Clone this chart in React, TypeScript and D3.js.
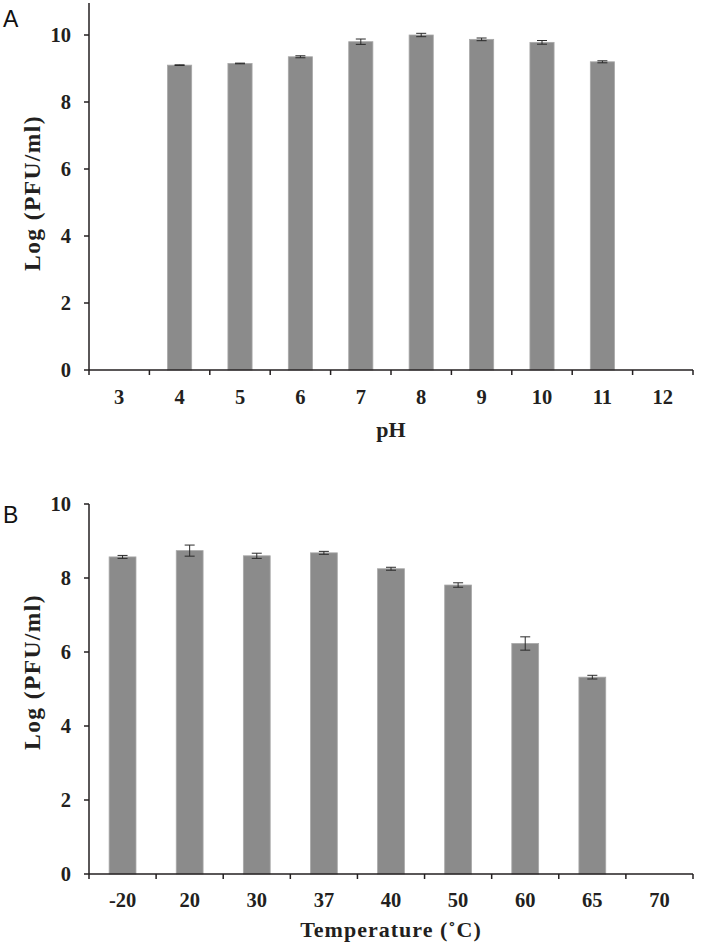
import React from "react";
import * as d3 from "d3";

const phCategories = ["3", "4", "5", "6", "7", "8", "9", "10", "11", "12"];
const phValues = [0, 9.1, 9.15, 9.35, 9.8, 10.0, 9.87, 9.78, 9.2, 0];
const phErrors = [0, 0.01, 0.01, 0.03, 0.08, 0.05, 0.04, 0.055, 0.03, 0];
const phTicks = [0, 2, 4, 6, 8, 10];

const tempCategories = ["-20", "20", "30", "37", "40", "50", "60", "65", "70"];
const tempValues = [8.57, 8.74, 8.6, 8.68, 8.25, 7.81, 6.23, 5.32, 0];
const tempErrors = [0.04, 0.15, 0.07, 0.04, 0.04, 0.06, 0.18, 0.05, 0];
const tempTicks = [0, 2, 4, 6, 8, 10];

const AXIS = "#231f20";
const BAR = "#8b8b8b";
const SERIF = "'Liberation Serif', 'Times New Roman', serif";
const SANS = "'Liberation Sans', Arial, sans-serif";

type PanelProps = {
  letter: string;
  letterY: number;
  letterSize: number;
  categories: string[];
  values: number[];
  errors: number[];
  ticks: number[];
  y0: number;
  y10: number;
  axisTop: number;
  xLabel: string;
  xLabelY: number;
  xLabelSpacing: number;
  tickLabelY: number;
  yTitleCenter: number;
};

function Panel(p: PanelProps) {
  const left = 89;
  const right = 693;
  const x = d3
    .scaleBand<string>()
    .domain(p.categories)
    .range([left, right])
    .paddingInner(0.6)
    .paddingOuter(0.3);
  const step = x.step();
  const y = d3.scaleLinear().domain([0, 10]).range([p.y0, p.y10]);
  const boundaries = d3.range(p.categories.length + 1).map((i) => left + i * step);
  return (
    <g>
      <text x={3} y={p.letterY} fontFamily={SANS} fontSize={p.letterSize} fill="#111">
        {p.letter}
      </text>
      {p.categories.map((c, i) => {
        const v = p.values[i];
        if (v <= 0) return null;
        const bx = x(c)!;
        const bw = x.bandwidth();
        const cx = bx + bw / 2;
        const e = p.errors[i];
        return (
          <g key={c}>
            <rect
              x={bx}
              y={y(v)}
              width={bw}
              height={y(0) - y(v)}
              fill={BAR}
              stroke="#a8a8a8"
              strokeWidth={0.8}
            />
            {e > 0 && (
              <g stroke="#2a2a2a" strokeWidth={1}>
                <line x1={cx} x2={cx} y1={y(v + e)} y2={y(v - e)} />
                <line x1={cx - 5} x2={cx + 5} y1={y(v + e)} y2={y(v + e)} />
                <line x1={cx - 5} x2={cx + 5} y1={y(v - e)} y2={y(v - e)} />
              </g>
            )}
          </g>
        );
      })}
      {/* y axis */}
      <line x1={left} x2={left} y1={p.axisTop} y2={y(0)} stroke={AXIS} strokeWidth={1.5} />
      {p.ticks.map((t) => (
        <g key={t}>
          <line x1={left - 5} x2={left} y1={y(t)} y2={y(t)} stroke={AXIS} strokeWidth={1.5} />
          <text
            x={71}
            y={y(t) + 7}
            textAnchor="end"
            fontFamily={SERIF}
            fontWeight="bold"
            fontSize={20.5}
            fill="#231f20"
          >
            {t}
          </text>
        </g>
      ))}
      {/* x axis */}
      <line x1={left} x2={right} y1={y(0)} y2={y(0)} stroke={AXIS} strokeWidth={1.5} />
      {boundaries.map((bx, i) => (
        <line key={i} x1={bx} x2={bx} y1={y(0)} y2={y(0) + 5} stroke={AXIS} strokeWidth={1.5} />
      ))}
      {p.categories.map((c) => (
        <text
          key={c}
          x={x(c)! + x.bandwidth() / 2}
          y={p.tickLabelY}
          textAnchor="middle"
          fontFamily={SERIF}
          fontWeight="bold"
          fontSize={20.5}
          fill="#231f20"
        >
          {c}
        </text>
      ))}
      <text
        x={(left + right) / 2}
        y={p.xLabelY}
        textAnchor="middle"
        fontFamily={SERIF}
        fontWeight="bold"
        fontSize={22}
        letterSpacing={p.xLabelSpacing}
        fill="#231f20"
      >
        {p.xLabel}
      </text>
      <text
        transform={`translate(40,${p.yTitleCenter}) rotate(-90)`}
        textAnchor="middle"
        fontFamily={SERIF}
        fontWeight="bold"
        fontSize={23.5}
        letterSpacing={1.4}
        fill="#231f20"
      >
        Log (PFU/ml)
      </text>
    </g>
  );
}

export default function App() {
  return (
    <svg
      width={701}
      height={949}
      style={{ position: "absolute", left: 0, top: 0, background: "#fff" }}
    >
      <rect width={701} height={949} fill="#fff" />
      <Panel
        letter="A"
        letterY={27}
        letterSize={23}
        categories={phCategories}
        values={phValues}
        errors={phErrors}
        ticks={phTicks}
        y0={370}
        y10={35}
        axisTop={3}
        xLabel="pH"
        xLabelY={437}
        xLabelSpacing={0}
        tickLabelY={404}
        yTitleCenter={193}
      />
      <Panel
        letter="B"
        letterY={523}
        letterSize={23}
        categories={tempCategories}
        values={tempValues}
        errors={tempErrors}
        ticks={tempTicks}
        y0={874}
        y10={504}
        axisTop={504}
        xLabel="Temperature (˚C)"
        xLabelY={937}
        xLabelSpacing={1}
        tickLabelY={907}
        yTitleCenter={672}
      />
    </svg>
  );
}
